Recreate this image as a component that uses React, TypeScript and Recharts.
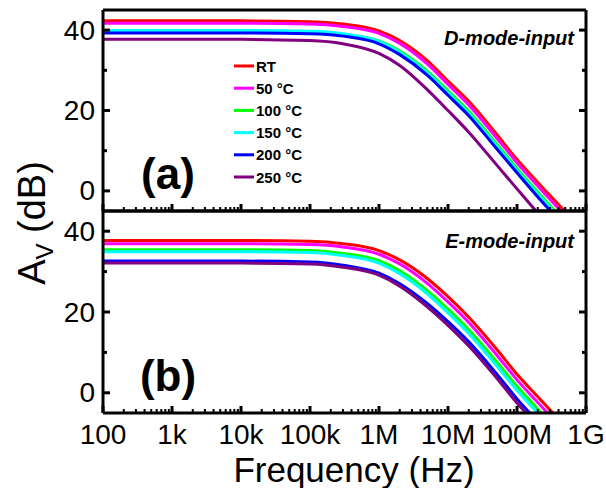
import { LineChart, Line, XAxis, YAxis } from "recharts";

// frequency points (Hz)
const freqs = [1e2, 1e3, 1e4, 1e5, 3e5, 1e6, 2e6, 5e6, 1e7, 2e7, 5e7, 1e8, 2e8, 5e8, 1e9];

const seriesKeys = ["rt", "t50", "t100", "t150", "t200", "t250"];
const seriesNames = ["RT", "50 °C", "100 °C", "150 °C", "200 °C", "250 °C"];
const seriesColors = ["#ff0000", "#ff00ff", "#00ff00", "#00ffff", "#0000ff", "#800080"];

// (a) D-mode-input, Av in dB
const dRT = [42.3, 42.3, 42.3, 42.1, 41.5, 39.8, 37.4, 32.4, 27.3, 22.3, 14.2, 7.8, 2.1, -5.2, -11];
const d50 = [41.7, 41.7, 41.7, 41.5, 40.9, 39.2, 36.7, 31.6, 26.5, 21.4, 13.3, 7.0, 1.2, -6.2, -12];
const d100 = [39.6, 39.6, 39.6, 39.5, 38.9, 37.3, 34.8, 29.8, 24.9, 19.8, 11.8, 5.6, -0.3, -7.8, -13.5];
const d150 = [39.9, 39.9, 39.9, 39.7, 39.1, 37.2, 34.5, 29.4, 24.4, 19.3, 11.3, 5.1, -0.8, -8.3, -14];
const d200 = [39.3, 39.3, 39.3, 39.1, 38.5, 36.6, 33.9, 28.8, 23.8, 18.7, 10.6, 4.5, -1.5, -9, -15];
const d250 = [37.7, 37.7, 37.7, 37.4, 36.6, 34.2, 31.2, 25.2, 20.0, 14.6, 6.6, 0.5, -5.5, -13, -19];

// (b) E-mode-input, Av in dB
const eRT = [37.7, 37.7, 37.7, 37.5, 36.9, 35.2, 32.9, 28.3, 23.8, 18.7, 10.9, 4.6, -1.0, -8.3, -14];
const e50 = [36.9, 36.9, 36.9, 36.7, 36.1, 34.3, 31.9, 27.1, 22.5, 17.4, 9.5, 3.2, -2.4, -9.7, -15.5];
const e100 = [35.4, 35.4, 35.4, 35.2, 34.5, 32.7, 30.2, 25.3, 20.7, 15.6, 7.8, 1.6, -4.0, -11.3, -17];
const e150 = [34.9, 34.9, 34.9, 34.7, 34.0, 32.1, 29.5, 24.5, 19.8, 14.7, 6.8, 0.6, -5.0, -12.3, -18];
const e200 = [32.6, 32.6, 32.6, 32.4, 31.6, 29.6, 27.0, 22.1, 17.6, 12.6, 4.8, -1.5, -7.1, -14.4, -20];
const e250 = [32.1, 32.1, 32.1, 31.9, 31.1, 29.1, 26.4, 21.3, 16.7, 11.6, 3.8, -2.5, -8.1, -15.4, -21];

const decades = [1e2, 1e3, 1e4, 1e5, 1e6, 1e7, 1e8, 1e9];
const xLabels = ["100", "1k", "10k", "100k", "1M", "10M", "100M", "1G"];
const minorSteps = [2, 3, 4, 5, 6, 7, 8, 9];
const yTicks = [0, 10, 20, 30, 40];
const yLabels = [0, 20, 40];

const xTicks = [
  ...decades,
  ...decades.slice(0, -1).flatMap((d) => minorSteps.map((k) => k * d)),
].sort((a, b) => a - b);

const buildRows = (values: number[][]) =>
  freqs.map((f, i) => {
    const row: Record<string, number> = { f };
    seriesKeys.forEach((k, s) => (row[k] = values[s][i]));
    return row;
  });

const dRows = buildRows([dRT, d50, d100, d150, d200, d250]);
const eRows = buildRows([eRT, e50, e100, e150, e200, e250]);

const W = 606;
const H = 488;
const PL = 103;
const PR = 586;
const PT = 10;
const PM = 211;
const PB = 413;

const FONT = "'Liberation Sans', Arial, sans-serif";
const axisLine = { stroke: "#000", strokeWidth: 3 };

const XTick = (props: any) => {
  const { x, y, payload, side, showLabel } = props;
  const v = payload.value;
  const idx = decades.indexOf(v);
  const major = idx >= 0;
  const len = major ? 7 : 4;
  const dir = side === "bottom" ? -1 : 1;
  return (
    <g>
      <line x1={x} x2={x} y1={y} y2={y + dir * len} stroke="#000" strokeWidth={major ? 3 : 2} />
      {showLabel && major && (
        <text x={x} y={y + 31} textAnchor="middle" fontSize={28} fontFamily={FONT} fill="#000">
          {xLabels[idx]}
        </text>
      )}
    </g>
  );
};

const YTick = (props: any) => {
  const { x, y, payload, side } = props;
  const v = payload.value;
  const major = yLabels.includes(v);
  const len = major ? 7 : 4;
  const dir = side === "left" ? 1 : -1;
  return (
    <g>
      <line x1={x} x2={x + dir * len} y1={y} y2={y} stroke="#000" strokeWidth={3} />
      {side === "left" && major && (
        <text x={x - 8} y={y} textAnchor="end" dominantBaseline="central" fontSize={28} fontFamily={FONT} fill="#000">
          {v}
        </text>
      )}
    </g>
  );
};

// axes get a 1px box (recharts skips 0-size axes); margins shrink by that 1px
const Panel = ({ rows, top, bottom, height, showXLabels }: any) => (
  <div style={{ position: "absolute", left: 0, top: 0 }}>
    <LineChart
      width={W}
      height={height}
      data={rows}
      margin={{ top: top - 1, right: W - PR - 1, bottom: bottom - 1, left: PL - 1 }}
    >
      <XAxis
        xAxisId="b"
        dataKey="f"
        type="number"
        scale="log"
        domain={[1e2, 1e9]}
        ticks={xTicks}
        interval={0}
        allowDataOverflow
        height={1}
        tickSize={0}
        tickMargin={0}
        tickLine={false}
        axisLine={axisLine}
        tick={(p: any) => <XTick {...p} side="bottom" showLabel={showXLabels} />}
      />
      <XAxis
        xAxisId="t"
        orientation="top"
        type="number"
        scale="log"
        domain={[1e2, 1e9]}
        ticks={xTicks}
        interval={0}
        allowDataOverflow
        height={1}
        tickSize={0}
        tickMargin={0}
        tickLine={false}
        axisLine={axisLine}
        tick={(p: any) => <XTick {...p} side="top" />}
      />
      <YAxis
        yAxisId="l"
        type="number"
        domain={[-5, 45]}
        ticks={yTicks}
        interval={0}
        allowDataOverflow
        width={1}
        tickSize={0}
        tickMargin={0}
        tickLine={false}
        axisLine={axisLine}
        tick={(p: any) => <YTick {...p} side="left" />}
      />
      <YAxis
        yAxisId="r"
        orientation="right"
        type="number"
        domain={[-5, 45]}
        ticks={yTicks}
        interval={0}
        allowDataOverflow
        width={1}
        tickSize={0}
        tickMargin={0}
        tickLine={false}
        axisLine={axisLine}
        tick={(p: any) => <YTick {...p} side="right" />}
      />
      {seriesKeys.map((k, i) => (
        <Line
          key={k}
          xAxisId="b"
          yAxisId="l"
          dataKey={k}
          name={seriesNames[i]}
          type="monotone"
          stroke={seriesColors[i]}
          strokeWidth={3}
          dot={false}
          isAnimationActive={false}
        />
      ))}
    </LineChart>
  </div>
);

export default function App() {
  return (
    <div style={{ position: "absolute", left: 0, top: 0, width: W, height: H, background: "#fff", fontFamily: FONT }}>
      <Panel rows={dRows} top={PT} bottom={221 - PM} height={221} />
      <Panel rows={eRows} top={PM} bottom={H - PB} height={H} showXLabels />
      <svg width={W} height={H} style={{ position: "absolute", left: 0, top: 0, pointerEvents: "none" }} fontFamily={FONT}>
        <text x={168} y={189} fontSize={44} fontWeight="bold" textAnchor="middle">(a)</text>
        <text x={168} y={391} fontSize={44} fontWeight="bold" textAnchor="middle">(b)</text>
        <text x={574} y={45} fontSize={20} fontWeight="bold" fontStyle="italic" textAnchor="end">D-mode-input</text>
        <text x={574} y={248} fontSize={20} fontWeight="bold" fontStyle="italic" textAnchor="end">E-mode-input</text>
        {seriesNames.map((n, i) => (
          <g key={n}>
            <line x1={234} x2={254} y1={66 + i * 22.2} y2={66 + i * 22.2} stroke={seriesColors[i]} strokeWidth={3} />
            <text x={256} y={66 + i * 22.2} dominantBaseline="central" fontSize={15} fontWeight="bold">{n}</text>
          </g>
        ))}
        <text x={354} y={482} fontSize={35} textAnchor="middle">Frequency (Hz)</text>
        <text transform="translate(45,223) rotate(-90)" fontSize={38} textAnchor="middle">
          A<tspan fontSize={24} dy={8}>V</tspan>
          <tspan dy={-8}> (dB)</tspan>
        </text>
      </svg>
    </div>
  );
}
